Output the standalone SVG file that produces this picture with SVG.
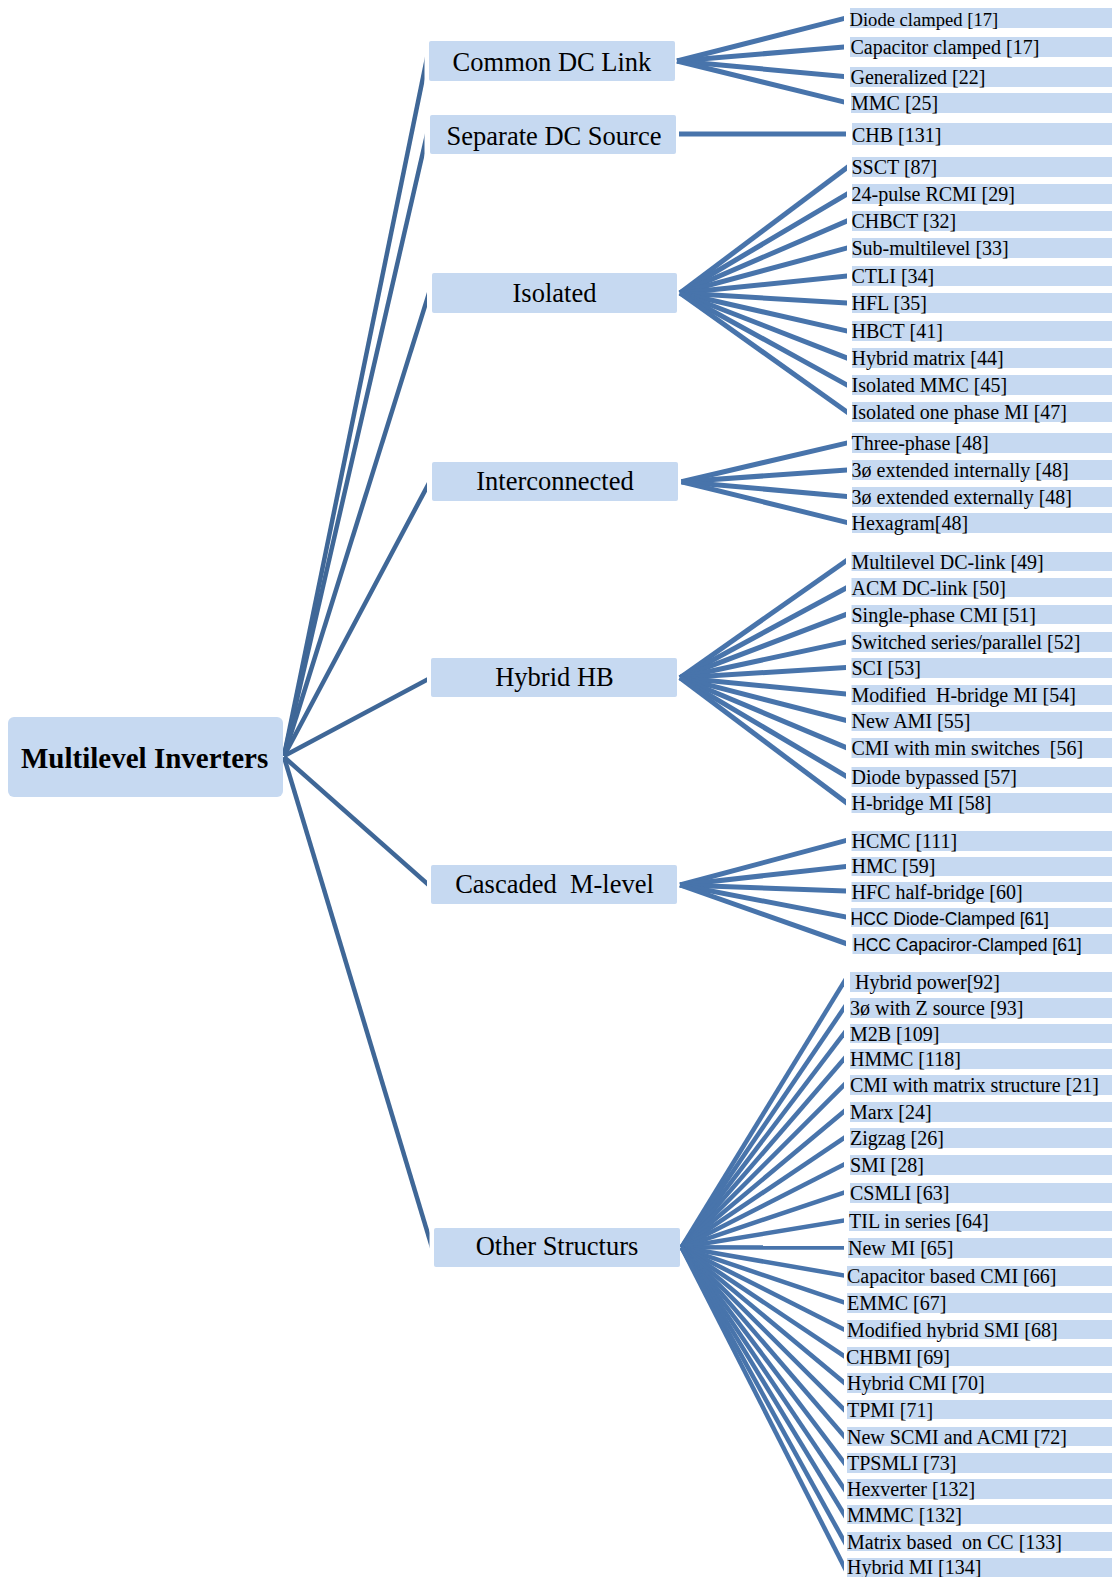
<svg xmlns="http://www.w3.org/2000/svg" width="1112" height="1577" viewBox="0 0 1112 1577" xml:space="preserve">
<style>
text{white-space:pre}
.box{fill:#c6d9f1}
.t{font-family:'Liberation Serif','Times New Roman',serif;fill:#000}
.root{font-size:29px;font-weight:bold}
.l1{font-size:26.5px;text-anchor:middle}
.lf{font-size:20px}
.sans{font-family:'Liberation Sans',Arial,sans-serif;font-size:17.5px;fill:#000}
.rl{stroke:#3f6797;stroke-width:4.5;fill:none}
.fl{stroke:#4874ab;stroke-width:5;fill:none}
.fo{stroke:#4874ab;stroke-width:4.5;fill:none}
</style>
<defs>
<clipPath id="cr1"><rect x="0" y="0" width="424.5" height="1577"/></clipPath>
<clipPath id="cr2"><rect x="0" y="0" width="427" height="1577"/></clipPath>
<clipPath id="cr3"><rect x="0" y="0" width="429.5" height="1577"/></clipPath>
<clipPath id="cf1"><rect x="0" y="0" width="844" height="1577"/></clipPath>
<clipPath id="cf2"><rect x="0" y="0" width="847" height="1577"/></clipPath>
<clipPath id="cf3"><rect x="0" y="0" width="846" height="1577"/></clipPath>
</defs>
<rect width="1112" height="1577" fill="#fff"/>

<g id="connectors">
<g id="root-links">
<line class="rl" clip-path="url(#cr1)" x1="284" y1="756" x2="430" y2="43.4"/>
<line class="rl" clip-path="url(#cr1)" x1="284" y1="756" x2="431" y2="117.2"/>
<line class="rl" clip-path="url(#cr2)" x1="284" y1="756" x2="433" y2="280.4"/>
<line class="rl" clip-path="url(#cr2)" x1="284" y1="756" x2="434" y2="473.7"/>
<line class="rl" clip-path="url(#cr2)" x1="284" y1="756" x2="433" y2="676.6"/>
<line class="rl" clip-path="url(#cr2)" x1="284" y1="757" x2="432" y2="887.8"/>
<line class="rl" clip-path="url(#cr3)" x1="284" y1="757" x2="436" y2="1260.7"/>
</g>
<g id="fan-common" clip-path="url(#cf1)">
<line class="fl" x1="677" y1="61" x2="850" y2="17"/>
<line class="fl" x1="677" y1="61" x2="850" y2="46.5"/>
<line class="fl" x1="677" y1="61" x2="850" y2="77.1"/>
<line class="fl" x1="677" y1="61" x2="850" y2="103.5"/>
</g>
<g id="fan-separate">
<line class="fl" x1="679" y1="134" x2="846" y2="134"/>
</g>
<g id="fan-isolated" clip-path="url(#cf2)">
<line class="fl" x1="680" y1="293" x2="853" y2="163"/>
<line class="fl" x1="680" y1="293" x2="853" y2="190.5"/>
<line class="fl" x1="680" y1="293" x2="853" y2="218.4"/>
<line class="fl" x1="680" y1="293" x2="853" y2="246.4"/>
<line class="fl" x1="680" y1="293" x2="853" y2="275.4"/>
<line class="fl" x1="680" y1="293" x2="853" y2="303.4"/>
<line class="fl" x1="680" y1="293" x2="853" y2="332.4"/>
<line class="fl" x1="680" y1="293" x2="853" y2="360.3"/>
<line class="fl" x1="680" y1="293" x2="853" y2="388.3"/>
<line class="fl" x1="680" y1="293" x2="853" y2="416.3"/>
</g>
<g id="fan-interconnected" clip-path="url(#cf2)">
<line class="fl" x1="681.5" y1="481.7" x2="853" y2="441.6"/>
<line class="fl" x1="681.5" y1="481.7" x2="853" y2="469.6"/>
<line class="fl" x1="681.5" y1="481.7" x2="853" y2="497"/>
<line class="fl" x1="681.5" y1="481.7" x2="853" y2="524"/>
</g>
<g id="fan-hybrid" clip-path="url(#cf3)">
<line class="fl" x1="680" y1="677.7" x2="852" y2="556.8"/>
<line class="fl" x1="680" y1="677.7" x2="852" y2="584.8"/>
<line class="fl" x1="680" y1="677.7" x2="852" y2="612.2"/>
<line class="fl" x1="680" y1="677.7" x2="852" y2="640.7"/>
<line class="fl" x1="680" y1="677.7" x2="852" y2="667.1"/>
<line class="fl" x1="680" y1="677.7" x2="852" y2="694.6"/>
<line class="fl" x1="680" y1="677.7" x2="852" y2="722"/>
<line class="fl" x1="680" y1="677.7" x2="852" y2="750"/>
<line class="fl" x1="680" y1="677.7" x2="852" y2="779.6"/>
<line class="fl" x1="680" y1="677.7" x2="852" y2="807"/>
</g>
<g id="fan-cascaded" clip-path="url(#cf3)">
<line class="fl" x1="680" y1="885" x2="852" y2="838.9"/>
<line class="fl" x1="680" y1="885" x2="852" y2="865.8"/>
<line class="fl" x1="680" y1="885" x2="852" y2="891.2"/>
<line class="fl" x1="680" y1="885" x2="852" y2="918.2"/>
<line class="fl" x1="680" y1="885" x2="852" y2="945.6"/>
</g>
<g id="fan-other" clip-path="url(#cf1)">
<line class="fo" x1="681.5" y1="1247.3" x2="850" y2="972.2"/>
<line class="fo" x1="681.5" y1="1247.3" x2="850" y2="999.2"/>
<line class="fo" x1="681.5" y1="1247.3" x2="850" y2="1025.6"/>
<line class="fo" x1="681.5" y1="1247.3" x2="850" y2="1052"/>
<line class="fo" x1="681.5" y1="1247.3" x2="850" y2="1079"/>
<line class="fo" x1="681.5" y1="1247.3" x2="850" y2="1106.5"/>
<line class="fo" x1="681.5" y1="1247.3" x2="850" y2="1134"/>
<line class="fo" x1="681.5" y1="1247.3" x2="850" y2="1161.4"/>
<line class="fo" x1="681.5" y1="1247.3" x2="850" y2="1190.5"/>
<line class="fo" x1="681.5" y1="1247.3" x2="850" y2="1219.5"/>
<line class="fo" x1="681.5" y1="1247.3" x2="850" y2="1247.5"/>
<line class="fo" x1="681.5" y1="1247.3" x2="850" y2="1276.5"/>
<line class="fo" x1="681.5" y1="1247.3" x2="850" y2="1304.5"/>
<line class="fo" x1="681.5" y1="1247.3" x2="850" y2="1332.5"/>
<line class="fo" x1="681.5" y1="1247.3" x2="850" y2="1360"/>
<line class="fo" x1="681.5" y1="1247.3" x2="850" y2="1387.5"/>
<line class="fo" x1="681.5" y1="1247.3" x2="850" y2="1415.5"/>
<line class="fo" x1="681.5" y1="1247.3" x2="850" y2="1443"/>
<line class="fo" x1="681.5" y1="1247.3" x2="850" y2="1470.5"/>
<line class="fo" x1="681.5" y1="1247.3" x2="850" y2="1497.4"/>
<line class="fo" x1="681.5" y1="1247.3" x2="850" y2="1523.9"/>
<line class="fo" x1="681.5" y1="1247.3" x2="850" y2="1551.8"/>
<line class="fo" x1="681.5" y1="1247.3" x2="850" y2="1578.3"/>
</g>
</g>

<g id="node-root"><rect class="box" x="8" y="717" width="275" height="80" rx="6"/><text class="t root" x="21" y="768">Multilevel Inverters</text></g>

<g id="node-common-dc-link"><rect class="box" x="429" y="41" width="246" height="40" rx="2"/><text class="t l1" x="552" y="71">Common DC Link</text></g>
<g id="node-separate-dc-source"><rect class="box" x="430" y="115" width="246" height="39" rx="2"/><text class="t l1" x="554" y="145">Separate DC Source</text></g>
<g id="node-isolated"><rect class="box" x="432" y="273" width="245" height="40" rx="2"/><text class="t l1" x="554.5" y="302">Isolated</text></g>
<g id="node-interconnected"><rect class="box" x="432" y="462" width="246" height="39" rx="2"/><text class="t l1" x="555" y="490">Interconnected</text></g>
<g id="node-hybrid-hb"><rect class="box" x="431" y="658" width="246" height="39" rx="2"/><text class="t l1" x="554.5" y="686">Hybrid HB</text></g>
<g id="node-cascaded"><rect class="box" x="431" y="865" width="246" height="39" rx="2"/><text class="t l1" x="554.5" y="893">Cascaded  M-level</text></g>
<g id="node-other"><rect class="box" x="434" y="1228" width="246" height="39" rx="2"/><text class="t l1" x="557" y="1255">Other Structurs</text></g>

<g id="leaf-diode-clamped"><rect class="box" x="850" y="8" width="262" height="20"/><text class="t lf" x="849.5" y="25.5" style="font-size:18.6px">Diode clamped [17]</text></g>
<g id="leaf-capacitor-clamped"><rect class="box" x="850" y="37" width="262" height="20"/><text class="t lf" x="850.5" y="54">Capacitor clamped [17]</text></g>
<g id="leaf-generalized"><rect class="box" x="850" y="67" width="262" height="20"/><text class="t lf" x="850.5" y="83.5">Generalized [22]</text></g>
<g id="leaf-mmc"><rect class="box" x="851" y="93" width="261" height="20"/><text class="t lf" x="851" y="109.5">MMC [25]</text></g>
<g id="leaf-chb"><rect class="box" x="852" y="123" width="260" height="22"/><text class="t lf" x="852" y="142">CHB [131]</text></g>

<g id="leaf-ssct"><rect class="box" x="852" y="157" width="260" height="20"/><text class="t lf" x="851.5" y="174">SSCT [87]</text></g>
<g id="leaf-24pulse"><rect class="box" x="852" y="184" width="260" height="20"/><text class="t lf" x="851.5" y="201">24-pulse RCMI [29]</text></g>
<g id="leaf-chbct"><rect class="box" x="852" y="211" width="260" height="20"/><text class="t lf" x="851.5" y="228">CHBCT [32]</text></g>
<g id="leaf-submultilevel"><rect class="box" x="852" y="238" width="260" height="20"/><text class="t lf" x="851.5" y="255">Sub-multilevel [33]</text></g>
<g id="leaf-ctli"><rect class="box" x="852" y="266" width="260" height="20"/><text class="t lf" x="851.5" y="283">CTLI [34]</text></g>
<g id="leaf-hfl"><rect class="box" x="852" y="293" width="260" height="20"/><text class="t lf" x="851.5" y="310">HFL [35]</text></g>
<g id="leaf-hbct"><rect class="box" x="852" y="321" width="260" height="20"/><text class="t lf" x="851.5" y="337.5">HBCT [41]</text></g>
<g id="leaf-hybrid-matrix"><rect class="box" x="852" y="348" width="260" height="20"/><text class="t lf" x="851.5" y="365">Hybrid matrix [44]</text></g>
<g id="leaf-isolated-mmc"><rect class="box" x="852" y="375" width="260" height="20"/><text class="t lf" x="851.5" y="392">Isolated MMC [45]</text></g>
<g id="leaf-isolated-one-phase"><rect class="box" x="852" y="402" width="260" height="20"/><text class="t lf" x="851.5" y="419">Isolated one phase MI [47]</text></g>

<g id="leaf-three-phase"><rect class="box" x="852" y="433" width="260" height="20"/><text class="t lf" x="851.5" y="450">Three-phase [48]</text></g>
<g id="leaf-3ph-internal"><rect class="box" x="852" y="460" width="260" height="20"/><text class="t lf" x="851.5" y="477">3ø extended internally [48]</text></g>
<g id="leaf-3ph-external"><rect class="box" x="852" y="487" width="260" height="20"/><text class="t lf" x="851.5" y="504">3ø extended externally [48]</text></g>
<g id="leaf-hexagram"><rect class="box" x="852" y="513" width="260" height="20"/><text class="t lf" x="851.5" y="530">Hexagram[48]</text></g>

<g id="leaf-multilevel-dc-link"><rect class="box" x="851.5" y="552" width="260.5" height="19"/><text class="t lf" x="851.5" y="568.5">Multilevel DC-link [49]</text></g>
<g id="leaf-acm-dc-link"><rect class="box" x="851.5" y="578" width="260.5" height="19"/><text class="t lf" x="851.5" y="594.5">ACM DC-link [50]</text></g>
<g id="leaf-single-phase-cmi"><rect class="box" x="851.5" y="605" width="260.5" height="19"/><text class="t lf" x="851.5" y="621.5">Single-phase CMI [51]</text></g>
<g id="leaf-switched"><rect class="box" x="851.5" y="632" width="260.5" height="20"/><text class="t lf" x="851.5" y="648.5">Switched series/parallel [52]</text></g>
<g id="leaf-sci"><rect class="box" x="851.5" y="658" width="260.5" height="20"/><text class="t lf" x="851.5" y="674.5">SCI [53]</text></g>
<g id="leaf-modified-hbridge"><rect class="box" x="851.5" y="685" width="260.5" height="20"/><text class="t lf" x="851.5" y="701.5">Modified  H-bridge MI [54]</text></g>
<g id="leaf-new-ami"><rect class="box" x="851.5" y="712" width="260.5" height="19"/><text class="t lf" x="851.5" y="728">New AMI [55]</text></g>
<g id="leaf-cmi-min"><rect class="box" x="851.5" y="738" width="260.5" height="20"/><text class="t lf" x="851.5" y="754.5">CMI with min switches  [56]</text></g>
<g id="leaf-diode-bypassed"><rect class="box" x="851.5" y="767" width="260.5" height="20"/><text class="t lf" x="851.5" y="783.5">Diode bypassed [57]</text></g>
<g id="leaf-hbridge-mi"><rect class="box" x="851.5" y="793" width="260.5" height="20"/><text class="t lf" x="851.5" y="810">H-bridge MI [58]</text></g>

<g id="leaf-hcmc"><rect class="box" x="851.5" y="831" width="260.5" height="20"/><text class="t lf" x="851.5" y="847.5">HCMC [111]</text></g>
<g id="leaf-hmc"><rect class="box" x="851.5" y="857" width="260.5" height="19"/><text class="t lf" x="851.5" y="873">HMC [59]</text></g>
<g id="leaf-hfc"><rect class="box" x="851.5" y="882" width="260.5" height="20"/><text class="t lf" x="851.5" y="898.5">HFC half-bridge [60]</text></g>
<g id="leaf-hcc-diode"><rect class="box" x="851" y="908" width="261" height="19"/><text class="sans" x="850.5" y="924.5">HCC Diode-Clamped [61]</text></g>
<g id="leaf-hcc-cap"><rect class="box" x="852.5" y="934" width="259.5" height="20"/><text class="sans" x="853" y="950.5">HCC Capaciror-Clamped [61]</text></g>

<g id="leaf-hybrid-power"><rect class="box" x="850" y="972" width="262" height="20"/><text class="t lf" x="850" y="989"> Hybrid power[92]</text></g>
<g id="leaf-3ph-z"><rect class="box" x="850" y="998" width="262" height="20"/><text class="t lf" x="850" y="1014.5">3ø with Z source [93]</text></g>
<g id="leaf-m2b"><rect class="box" x="850" y="1024" width="262" height="19"/><text class="t lf" x="850" y="1040.5">M2B [109]</text></g>
<g id="leaf-hmmc"><rect class="box" x="850" y="1049" width="262" height="20"/><text class="t lf" x="850" y="1066">HMMC [118]</text></g>
<g id="leaf-cmi-matrix"><rect class="box" x="850" y="1075" width="262" height="20"/><text class="t lf" x="850" y="1092">CMI with matrix structure [21]</text></g>
<g id="leaf-marx"><rect class="box" x="850" y="1102" width="262" height="20"/><text class="t lf" x="850" y="1118.5">Marx [24]</text></g>
<g id="leaf-zigzag"><rect class="box" x="850" y="1128" width="262" height="20"/><text class="t lf" x="850" y="1145">Zigzag [26]</text></g>
<g id="leaf-smi"><rect class="box" x="850" y="1155" width="262" height="20"/><text class="t lf" x="850" y="1172">SMI [28]</text></g>
<g id="leaf-csmli"><rect class="box" x="850" y="1183" width="262" height="20"/><text class="t lf" x="850" y="1199.5">CSMLI [63]</text></g>
<g id="leaf-til"><rect class="box" x="849" y="1211" width="263" height="20"/><text class="t lf" x="849" y="1227.5">TIL in series [64]</text></g>
<g id="leaf-new-mi"><rect class="box" x="848" y="1238" width="264" height="20"/><text class="t lf" x="848" y="1255">New MI [65]</text></g>
<g id="leaf-capacitor-cmi"><rect class="box" x="847" y="1266" width="265" height="20"/><text class="t lf" x="847" y="1283">Capacitor based CMI [66]</text></g>
<g id="leaf-emmc"><rect class="box" x="847" y="1293" width="265" height="20"/><text class="t lf" x="847" y="1310">EMMC [67]</text></g>
<g id="leaf-modified-hybrid-smi"><rect class="box" x="847" y="1320" width="265" height="19"/><text class="t lf" x="847" y="1336.5">Modified hybrid SMI [68]</text></g>
<g id="leaf-chbmi"><rect class="box" x="847" y="1347" width="265" height="19"/><text class="t lf" x="846" y="1363.5">CHBMI [69]</text></g>
<g id="leaf-hybrid-cmi"><rect class="box" x="847" y="1373" width="265" height="20"/><text class="t lf" x="847" y="1390">Hybrid CMI [70]</text></g>
<g id="leaf-tpmi"><rect class="box" x="847" y="1400" width="265" height="19"/><text class="t lf" x="847" y="1416.5">TPMI [71]</text></g>
<g id="leaf-new-scmi"><rect class="box" x="847" y="1427" width="265" height="19"/><text class="t lf" x="847" y="1443.5">New SCMI and ACMI [72]</text></g>
<g id="leaf-tpsmli"><rect class="box" x="847" y="1453" width="265" height="20"/><text class="t lf" x="847" y="1469.5">TPSMLI [73]</text></g>
<g id="leaf-hexverter"><rect class="box" x="847" y="1479" width="265" height="20"/><text class="t lf" x="847" y="1495.5">Hexverter [132]</text></g>
<g id="leaf-mmmc"><rect class="box" x="847" y="1505" width="265" height="19"/><text class="t lf" x="847" y="1521.5">MMMC [132]</text></g>
<g id="leaf-matrix-cc"><rect class="box" x="847" y="1532" width="265" height="19"/><text class="t lf" x="847" y="1548.5">Matrix based  on CC [133]</text></g>
<g id="leaf-hybrid-mi"><rect class="box" x="847" y="1558" width="265" height="19"/><text class="t lf" x="847" y="1574">Hybrid MI [134]</text></g>
</svg>
